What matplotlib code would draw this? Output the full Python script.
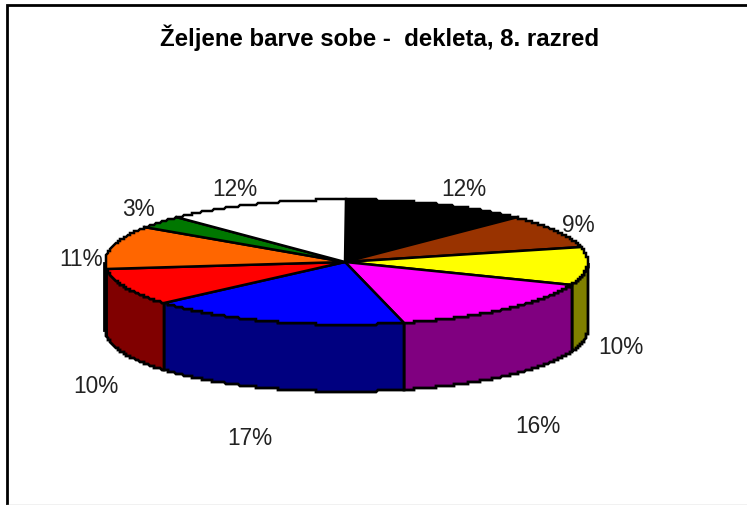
import numpy as np
import matplotlib
matplotlib.use("Agg")
import matplotlib.pyplot as plt
from matplotlib.patches import Polygon
from matplotlib.lines import Line2D

plt.rcParams['font.family'] = ['Liberation Sans', 'DejaVu Sans']

title = "Željene barve sobe -  dekleta, 8. razred"
values = [12.5, 8.9, 9.5, 15.3, 17.4, 9.4, 11.2, 3.4, 12.4]
labels = ["12%", "9%", "10%", "16%", "17%", "10%", "11%", "3%", "12%"]
top_colors = ["#000000", "#993300", "#FFFF00", "#FF00FF", "#0000FF",
              "#FF0000", "#FF6600", "#007700", "#FFFFFF"]
side_colors = ["#000000", "#4D1A00", "#808000", "#800080", "#000080",
               "#800000", "#803300", "#004000", "#808080"]

# layout (pixels)
W, H = 747, 506
CX, CY, RX, RY, DEPTH = 346.5, 263, 241.5, 62.5, 67
STEP = 2
label_xy = [(464, 189), (578, 225), (621, 348), (538, 427), (250, 439),
            (96, 387), (81, 259), (138, 209), (235, 189)]

fig = plt.figure(figsize=(W / 100, H / 100), dpi=100, facecolor="white")
ax = fig.add_axes([0, 0, 1, 1])
ax.set_xlim(0, W)
ax.set_ylim(H, 0)
ax.axis("off")


def rim(a0, a1, dy=0.0):
    t = np.radians(np.linspace(a0, a1, max(int((a1 - a0) * 4), 2)))
    x = np.round((CX + RX * np.sin(t)) / STEP) * STEP
    y = np.round((CY - RY * np.cos(t)) / STEP) * STEP + dy
    return np.column_stack([x, y])


edges = np.concatenate([[0], np.cumsum(values)]) / np.sum(values) * 360

# side walls: only the front half (90..270 degrees) is visible
for a0, a1, c in zip(edges[:-1], edges[1:], side_colors):
    lo, hi = max(a0, 90), min(a1, 270)
    if hi <= lo:
        continue
    up = rim(lo, hi)
    down = rim(lo, hi, DEPTH)[::-1]
    ax.add_patch(Polygon(np.vstack([up, down]), closed=True, facecolor=c,
                         edgecolor="black", linewidth=2, joinstyle="miter", zorder=2))

# top wedges
for a0, a1, c in zip(edges[:-1], edges[1:], top_colors):
    pts = np.vstack([[[CX - 1.5, CY]], rim(a0, a1)])
    ax.add_patch(Polygon(pts, closed=True, facecolor=c, edgecolor="black",
                         linewidth=1.8, joinstyle="miter", zorder=3))

for (x, y), s in zip(label_xy, labels):
    ax.text(x, y, s, ha="center", va="center", fontsize=16.3, color="#222222", zorder=5)

ax.text(380, 38, title, ha="center", va="center", fontsize=17.3, fontweight="bold",
        color="black", zorder=5)

# chart frame
ax.add_line(Line2D([7, 7, W], [H, 5.5, 5.5], color="black", linewidth=2, zorder=6,
                   solid_joinstyle="miter"))
ax.add_line(Line2D([7, W], [505.5, 505.5], color="#BBBBBB", linewidth=1, zorder=6))

fig.savefig("out.png", dpi=100, facecolor="white")
